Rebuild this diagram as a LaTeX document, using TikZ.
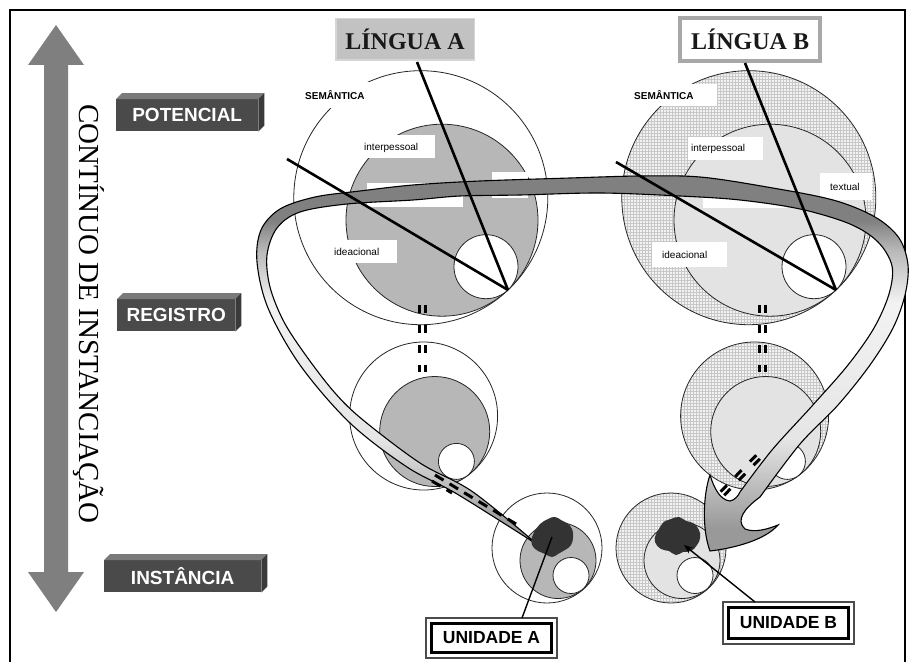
\documentclass[tikz,border=0pt]{standalone}
\usepackage{fontspec}
\setmainfont{Liberation Serif}
\newfontfamily\arialfont{Liberation Sans}
\usetikzlibrary{calc,patterns,arrows.meta}

\definecolor{frontgray}{HTML}{4A4A4A}
\definecolor{topgray}{HTML}{7A7A7A}
\definecolor{sidegray}{HTML}{3A3A3A}
\definecolor{midgray}{HTML}{B7B7B7}
\definecolor{palegray}{HTML}{E3E3E3}
\definecolor{gridbase}{HTML}{F2F2F2}
\definecolor{gridline}{HTML}{C8C8C8}
\definecolor{blobgray}{HTML}{333333}
\definecolor{boxAfill}{HTML}{C2C2C2}
\definecolor{boxAline}{HTML}{D6D6D6}
\definecolor{boxBline}{HTML}{A8A8A8}
\definecolor{arrowgray}{HTML}{7F7F7F}

% shading of the curved ribbon: dark along the top, pale on the sides, darker at the head
\pgfdeclareverticalshading{bandshade}{100bp}{color(0bp)=(gray!80); color(28bp)=(gray!80); color(33bp)=(gray!55); color(40bp)=(gray!20); color(58bp)=(gray!10); color(65bp)=(gray!55); color(69bp)=(gray!100); color(100bp)=(gray!100)}

\begin{document}
\begin{tikzpicture}[x=1pt,y=-1pt,
  lvl/.style={fill=frontgray, text=white, font=\arialfont\bfseries\fontsize{19}{19}\selectfont,
    anchor=north west, inner sep=0pt, minimum height=32pt},
  ring/.style={draw=black!85, line width=0.8pt},
  wbox/.style={fill=white, anchor=north west, inner sep=0pt},
  smalllbl/.style={anchor=west, inner sep=0pt, font=\arialfont\fontsize{10}{10}\selectfont},
  semlbl/.style={anchor=west, inner sep=0pt, font=\arialfont\bfseries\fontsize{10}{10}\selectfont},
  ray/.style={line width=2.6pt, black},
  dashpair/.style={line width=3pt, black, dash pattern=on 8pt off 12pt},
  diagdash/.style={line width=3pt, black, dash pattern=on 10pt off 7pt},
  band/.style={draw=black, line width=1.1pt, shade, shading=bandshade},
  lingua/.style={anchor=north west, inner sep=0pt, text=black!90,
    font=\bfseries\fontsize{24}{24}\selectfont},
  unitbox/.style={anchor=north west, draw=black, line width=3pt, fill=white, inner sep=0pt,
    minimum width=120pt, minimum height=29pt, font=\arialfont\bfseries\fontsize{17.5}{17.5}\selectfont},
  pointer/.style={line width=1.4pt, black}
]
\useasboundingbox (0,0) rectangle (915,661);
\clip (0,0) rectangle (915,661);
\fill[white] (0,0) rectangle (915,661);

% outer frame
\draw[line width=1.6pt] (10,10) rectangle (905,700);

% vertical double arrow of the instantiation cline
\fill[arrowgray] (56,25) -- (84,65) -- (68,65) -- (68,572) -- (84,572) -- (56,612)
  -- (28,572) -- (44,572) -- (44,65) -- (28,65) -- cycle;
\node[rotate=-90, inner sep=0pt, font=\fontsize{29}{29}\selectfont] (cline) at (89,314)
  {CONTÍNUO DE INSTANCIAÇÃO};

% level labels drawn as blocks
\node[lvl, minimum width=142pt] (pot) at (116,99) {POTENCIAL};
\node[lvl, minimum width=118pt] (reg) at (117,299) {REGISTRO};
\node[lvl, minimum width=157pt] (inst) at (104,560) {INSTÂNCIA};
\foreach \b in {pot,reg,inst} {
  \fill[topgray] (\b.north west) -- ++(6,-6) -- ($(\b.north east)+(6,-6)$) -- (\b.north east) -- cycle;
  \fill[sidegray] (\b.north east) -- ++(6,-6) -- ($(\b.south east)+(6,-6)$) -- (\b.south east) -- cycle;
}

% ---------- language A : potential ----------
\draw[ring, fill=white] (420.8,197.7) circle[radius=127];
\draw[ring, fill=midgray] (442,220.2) circle[radius=96];
\draw[ring, fill=white] (486,266.7) circle[radius=32];
% ---------- language B : potential ----------
\fill[gridbase] (748.8,197.7) circle[radius=127];
\fill[pattern=grid, pattern color=gridline] (748.8,197.7) circle[radius=127];
\draw[ring] (748.8,197.7) circle[radius=127];
\draw[ring, fill=palegray] (770,220.2) circle[radius=96];
\draw[ring, fill=white] (814,266.7) circle[radius=32];

% ---------- register ----------
\draw[ring, fill=white] (423.6,416) circle[radius=74];
\draw[ring, fill=midgray] (434.7,431.5) circle[radius=55];
\draw[ring, fill=white] (456.4,461.4) circle[radius=18];
\fill[gridbase] (754.6,416) circle[radius=74];
\fill[pattern=grid, pattern color=gridline] (754.6,416) circle[radius=74];
\draw[ring] (754.6,416) circle[radius=74];
\draw[ring, fill=palegray] (765.7,431.5) circle[radius=55];
\draw[ring, fill=white] (787.4,461.4) circle[radius=18];

% ---------- instance ----------
\draw[ring, fill=white] (547,548) circle[radius=55];
\draw[ring, fill=midgray] (558,560.5) circle[radius=38];
\draw[ring, fill=white] (571,575.5) circle[radius=18];
\fill[gridbase] (671,548) circle[radius=55];
\fill[pattern=grid, pattern color=gridline] (671,548) circle[radius=55];
\draw[ring] (671,548) circle[radius=55];
\draw[ring, fill=palegray] (682,560.5) circle[radius=38];
\draw[ring, fill=white] (695,575.5) circle[radius=18];

% ---------- metafunction labels, A ----------
\node[wbox, minimum width=70pt, minimum height=26pt] (semAbox) at (302,82) {};
\node[semlbl] (semA) at (305,95) {SEMÂNTICA};
\node[wbox, minimum width=73pt, minimum height=23pt] (ipAbox) at (362,135) {};
\node[smalllbl] (ipA) at (364,147.5) {interpessoal};
\node[wbox, minimum width=36pt, minimum height=26pt] (txAbox) at (492,172) {};
\node[wbox, minimum width=96pt, minimum height=24pt] (exAbox) at (367,183) {};
\node[wbox, minimum width=65pt, minimum height=23pt] (idAbox) at (332,240) {};
\node[smalllbl] (idA) at (334,252) {ideacional};

% ---------- metafunction labels, B ----------
\node[wbox, minimum width=85pt, minimum height=22pt] (semBbox) at (632,84) {};
\node[semlbl] (semB) at (634,95.5) {SEMÂNTICA};
\node[wbox, minimum width=75pt, minimum height=23pt] (ipBbox) at (688,137) {};
\node[smalllbl] (ipB) at (691,149) {interpessoal};
\node[wbox, minimum width=52pt, minimum height=27pt] (txBbox) at (820,173) {};
\node[smalllbl] (txB) at (830,187) {textual};
\node[wbox, minimum width=84pt, minimum height=18pt] (exBbox) at (703,190) {};
\node[wbox, minimum width=75pt, minimum height=25pt] (idBbox) at (652,242) {};
\node[smalllbl] (idB) at (662,254.5) {ideacional};

% ---------- language titles ----------
\node[lingua, draw=boxAline, line width=1.5pt, fill=boxAfill, minimum width=138.5pt,
  minimum height=41.5pt] (lingA) at (335,18) {LÍNGUA A};
\node[lingua, draw=boxBline, line width=4pt, fill=white, minimum width=140pt,
  minimum height=43pt] (lingB) at (678,16) {LÍNGUA B};

% ---------- the curved ribbon from instance A to instance B ----------
\path[band] plot[smooth, tension=0.55] coordinates {(538,545) (457,494) (407,467) (350,423)
   (300,365) (268,308) (257,262) (261,230) (280,209) (315,197) (360,191) (413,185) (480,181)
   (570,178) (640,176) (700,177) (767,187) (833,200) (875,217) (899,238) (908,265) (905,295)
   (893,328) (870,365) (838,405) (800,444) (760,497)}
  .. controls (745,508) and (735,520) .. (745,529)
  .. controls (755,533) and (768,529) .. (778,525)
  .. controls (765,540) and (735,548) .. (710,551)
  .. controls (702,530) and (703,495) .. (710,475)
  .. controls (714,488) and (720,500) .. (730,501)
  .. controls (735,500) and (738,496) .. (740,492)
  -- plot[smooth, tension=0.55] coordinates {(740,492) (772,450) (812,406) (848,365) (874,328)
   (889,294) (892,266) (878,242) (850,224) (800,209) (740,200) (680,196) (600,193) (520,195)
   (460,196) (413,200) (347,204) (300,212) (277,228) (267,255) (270,287) (284,322) (307,357)
   (335,393) (363,420) (420,463) (473,492) (538,545)}
  -- cycle;

% ---------- radial lines ----------
\coordinate (TA) at (508,290);
\coordinate (TB) at (836,290);
\coordinate (topA) at (417,62);
\coordinate (topB) at (745,63);
\coordinate (sideA) at (287,159);
\coordinate (sideB) at (616,162);
\draw[ray] (topA) -- (TA);
\draw[ray] (sideA) -- (TA);
\draw[ray] (topB) -- (TB);
\draw[ray] (sideB) -- (TB);

% ---------- dashed links between strata ----------
\draw[dashpair] (419.5,305) -- (419.5,372);
\draw[dashpair] (425.5,305) -- (425.5,372);
\draw[dashpair] (759.5,305) -- (759.5,372);
\draw[dashpair] (765.5,305) -- (765.5,372);
\draw[diagdash] (435,475) -- (516,524);
\draw[diagdash] (432,481) -- (452,493);
\draw[line width=3pt, dash pattern=on 9pt off 12pt] (759.8,458.8) -- (717.8,501.8);
\draw[line width=3pt, dash pattern=on 9pt off 12pt] (756.2,455.2) -- (714.2,498.2);

% ---------- instance units ----------
\coordinate (blobA) at (552,537);
\coordinate (blobB) at (677,536);
\begin{scope}[shift={(blobA)}]
  \fill[blobgray] plot[smooth cycle, tension=0.8] coordinates {(-4,-18) (3,-20) (9,-17) (15,-14)
    (20,-8) (21,0) (19,8) (13,13) (6,17) (0,20) (-7,17) (-14,14) (-20,8) (-20,0) (-17,-7) (-12,-13)};
\end{scope}
\begin{scope}[shift={(blobB)}]
  \fill[blobgray] plot[smooth cycle, tension=0.8] coordinates {(-6,-17) (2,-19) (9,-15) (16,-13)
    (22,-6) (23,2) (20,9) (14,15) (6,16) (-1,19) (-8,15) (-16,13) (-22,6) (-21,-2) (-17,-9) (-12,-15)};
\end{scope}

\node[unitbox] (unA) at (430,622) {UNIDADE A};
\draw[gray!60!black, line width=1.3pt] ($(unA.north west)+(-4,-4)$) rectangle ($(unA.south east)+(4,4)$);
\node[unitbox, minimum height=31pt] (unB) at (727,606) {UNIDADE B};
\draw[gray!60!black, line width=1.3pt] ($(unB.north west)+(-4,-4)$) rectangle ($(unB.south east)+(4,4)$);

\coordinate (pA) at (522,618);
\coordinate (pB) at (755,602);
\draw[pointer] (pA) -- (blobA);
\draw[pointer, -{Stealth[length=9pt,width=7pt]}] (pB) -- ($(blobB)+(7,9)$);
\end{tikzpicture}
\end{document}
